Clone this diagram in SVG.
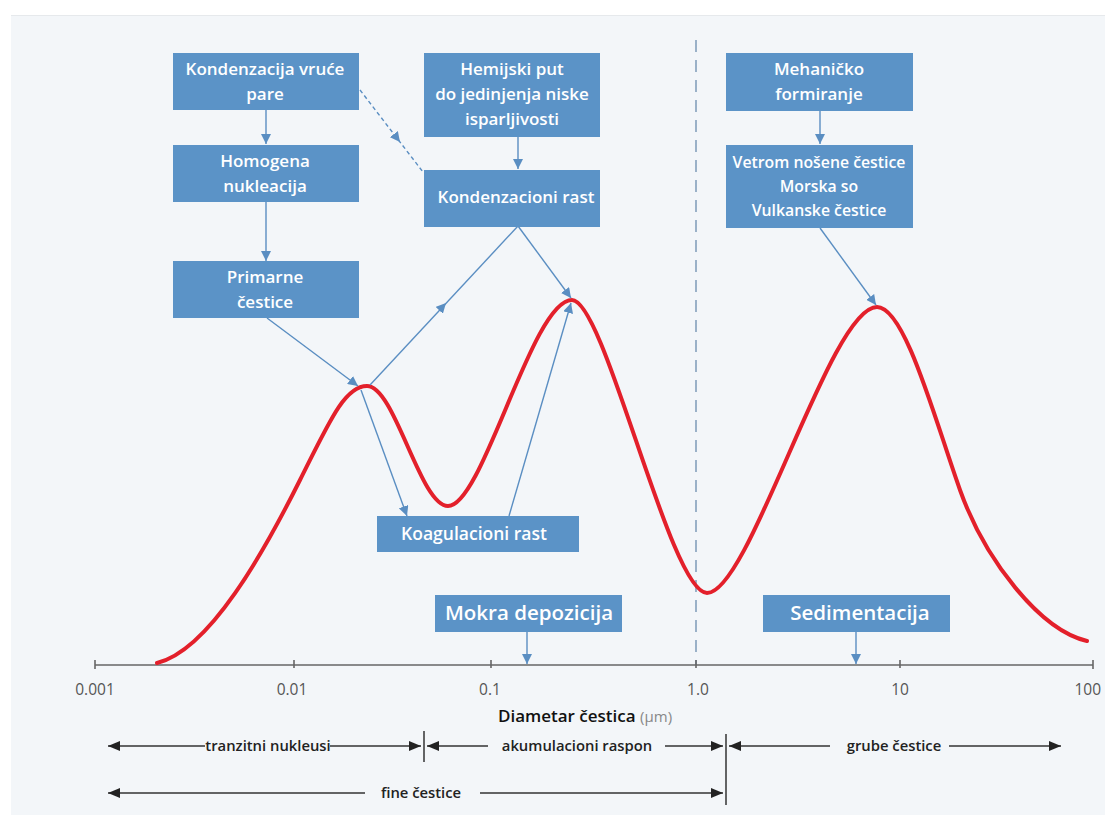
<svg xmlns="http://www.w3.org/2000/svg" width="1105" height="815" viewBox="0 0 1105 815">
<defs>
<style>
.box{fill:#5b93c7;}
.bt{font-family:"Open Sans","Liberation Sans",sans-serif;font-weight:600;font-size:17px;fill:#ffffff;text-anchor:middle;}
.bt2{font-family:"Open Sans","Liberation Sans",sans-serif;font-weight:600;font-size:20.5px;fill:#ffffff;text-anchor:middle;}
.con{stroke:#5a8ec2;stroke-width:1.4;fill:none;}
.tick{font-family:"Open Sans","Liberation Sans",sans-serif;font-size:15.5px;fill:#555;text-anchor:middle;}
.rl{font-family:"Open Sans","Liberation Sans",sans-serif;font-weight:600;font-size:14.8px;fill:#222;text-anchor:middle;}
.rng{stroke:#333;stroke-width:1.5;fill:none;}
</style>
<marker id="ab" viewBox="0 0 10 10" refX="10" refY="5" markerWidth="10" markerHeight="10" markerUnits="userSpaceOnUse" orient="auto"><path d="M0,0 L10,5 L0,10 z" fill="#5a8ec2"/></marker>
<marker id="ak" viewBox="0 0 12 10" refX="12" refY="5" markerWidth="12" markerHeight="10" markerUnits="userSpaceOnUse" orient="auto"><path d="M0,0 L12,5 L0,10 z" fill="#222"/></marker>
</defs>
<rect x="0" y="0" width="1105" height="815" fill="#ffffff"/>
<rect x="11" y="16" width="1094" height="799" fill="#f3f6f9"/>
<line x1="11" y1="15.5" x2="1105" y2="15.5" stroke="#e6e9ec" stroke-width="1"/>

<g id="axis">
<line x1="696" y1="40" x2="696" y2="665" stroke="#7d9bb8" stroke-width="1.5" stroke-dasharray="12,8"/>
<line x1="95" y1="665" x2="1093" y2="665" stroke="#666" stroke-width="1.6"/>
<g stroke="#666" stroke-width="1.6">
<line x1="95" y1="660" x2="95" y2="669"/>
<line x1="294" y1="660" x2="294" y2="668"/>
<line x1="491" y1="660" x2="491" y2="668"/>
<line x1="696" y1="660" x2="696" y2="668"/>
<line x1="900" y1="660" x2="900" y2="668"/>
<line x1="1093" y1="660" x2="1093" y2="669"/>
</g>
<text class="tick" x="95" y="695">0.001</text>
<text class="tick" x="292" y="695">0.01</text>
<text class="tick" x="490" y="695">0.1</text>
<text class="tick" x="698" y="695">1.0</text>
<text class="tick" x="900" y="695">10</text>
<text class="tick" x="1101" y="695" style="text-anchor:end">100</text>
<text x="585" y="722" text-anchor="middle" font-family="'Open Sans','Liberation Sans',sans-serif" font-size="17" font-weight="600" fill="#111">Diametar čestica <tspan font-weight="400" font-size="15" fill="#888">(µm)</tspan></text>
</g>

<path id="curve" d="M157,663 C210,650 265,550 300,480 C330,420 345,386 367,386 C395,386 420,506 448,506 C483,506 532,300 572,300 C605,300 670,593 707,593 C750,593 830,307 877,307 C905,307 935,420 960,490 C985,560 1040,630 1087,641" fill="none" stroke="#e3202b" stroke-width="4" stroke-linecap="round"/>

<g id="connectors">
<line class="con" x1="266" y1="110" x2="266" y2="144" marker-end="url(#ab)"/>
<line class="con" x1="266" y1="202" x2="266" y2="261" marker-end="url(#ab)"/>
<line class="con" x1="360" y1="90" x2="423" y2="172" stroke-dasharray="4,3"/>
<line class="con" x1="360" y1="90" x2="400" y2="142" style="stroke:none" marker-end="url(#ab)"/>
<line class="con" x1="518" y1="137" x2="518" y2="169" marker-end="url(#ab)"/>
<line class="con" x1="820" y1="111" x2="820" y2="144" marker-end="url(#ab)"/>
<line class="con" x1="267" y1="318" x2="358" y2="386" marker-end="url(#ab)"/>
<line class="con" x1="370" y1="385" x2="518" y2="226"/>
<line class="con" x1="370" y1="385" x2="446" y2="303" style="stroke:none" marker-end="url(#ab)"/>
<line class="con" x1="518" y1="226" x2="571" y2="298" marker-end="url(#ab)"/>
<line class="con" x1="361" y1="390" x2="407" y2="516" marker-end="url(#ab)"/>
<line class="con" x1="509" y1="516" x2="571" y2="303" marker-end="url(#ab)"/>
<line class="con" x1="820" y1="228" x2="876" y2="305" marker-end="url(#ab)"/>
<line class="con" x1="527" y1="632" x2="527" y2="664" marker-end="url(#ab)"/>
<line class="con" x1="856" y1="632" x2="856" y2="664" marker-end="url(#ab)"/>
</g>

<g id="n-kondenzacija">
<rect class="box" x="173" y="53" width="186" height="57"/>
<text class="bt" x="265" y="75">Kondenzacija vruće</text>
<text class="bt" x="265" y="100">pare</text>
</g>
<g id="n-homogena">
<rect class="box" x="173" y="145" width="186" height="57"/>
<text class="bt" x="265" y="167">Homogena</text>
<text class="bt" x="265" y="192">nukleacija</text>
</g>
<g id="n-primarne">
<rect class="box" x="173" y="261" width="186" height="57"/>
<text class="bt" x="265" y="283">Primarne</text>
<text class="bt" x="265" y="308">čestice</text>
</g>
<g id="n-hemijski">
<rect class="box" x="424" y="53" width="176" height="84"/>
<text class="bt" x="512" y="75">Hemijski put</text>
<text class="bt" x="512" y="100">do jedinjenja niske</text>
<text class="bt" x="512" y="125">isparljivosti</text>
</g>
<g id="n-kondenzacioni">
<rect class="box" x="424" y="170" width="176" height="57"/>
<text class="bt" x="516" y="203">Kondenzacioni rast</text>
</g>
<g id="n-mehanicko">
<rect class="box" x="726" y="53" width="187" height="58"/>
<text class="bt" x="819" y="75">Mehaničko</text>
<text class="bt" x="819" y="100">formiranje</text>
</g>
<g id="n-vetrom">
<rect class="box" x="726" y="145" width="187" height="83"/>
<text class="bt" x="819" y="168" style="font-size:15.8px">Vetrom nošene čestice</text>
<text class="bt" x="819" y="192" style="font-size:15.8px">Morska so</text>
<text class="bt" x="819" y="216" style="font-size:15.8px">Vulkanske čestice</text>
</g>
<g id="n-koagulacioni">
<rect class="box" x="377" y="516" width="202" height="36"/>
<text class="bt" x="474" y="540" style="font-size:17.5px">Koagulacioni rast</text>
</g>
<g id="n-mokra">
<rect class="box" x="435" y="595" width="187" height="37"/>
<text class="bt2" x="529" y="620">Mokra depozicija</text>
</g>
<g id="n-sedimentacija">
<rect class="box" x="763" y="595" width="187" height="37"/>
<text class="bt2" x="860" y="620">Sedimentacija</text>
</g>

<g id="ranges">
<line class="rng" x1="424" y1="731" x2="424" y2="762"/>
<line class="rng" x1="726" y1="734" x2="726" y2="805"/>
<line class="rng" x1="205" y1="746" x2="108" y2="746" marker-end="url(#ak)"/>
<line class="rng" x1="330" y1="746" x2="421" y2="746" marker-end="url(#ak)"/>
<text class="rl" x="268" y="751">tranzitni nukleusi</text>
<line class="rng" x1="488" y1="746" x2="427" y2="746" marker-end="url(#ak)"/>
<line class="rng" x1="665" y1="746" x2="723" y2="746" marker-end="url(#ak)"/>
<text class="rl" x="577" y="751">akumulacioni raspon</text>
<line class="rng" x1="830" y1="746" x2="729" y2="746" marker-end="url(#ak)"/>
<line class="rng" x1="949" y1="746" x2="1061" y2="746" marker-end="url(#ak)"/>
<text class="rl" x="894" y="751">grube čestice</text>
<line class="rng" x1="365" y1="793" x2="108" y2="793" marker-end="url(#ak)"/>
<line class="rng" x1="480" y1="793" x2="723" y2="793" marker-end="url(#ak)"/>
<text class="rl" x="421" y="798">fine čestice</text>
</g>
</svg>
